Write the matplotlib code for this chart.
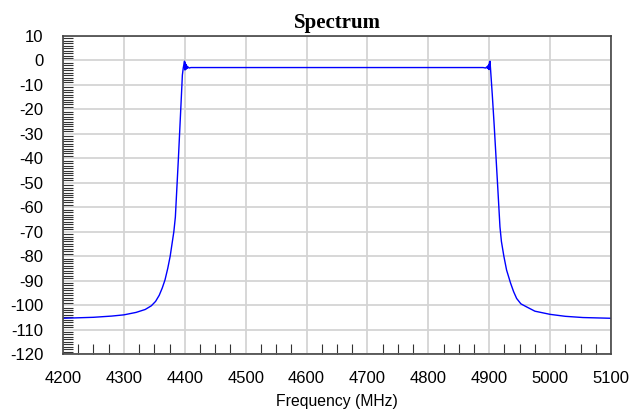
import matplotlib
matplotlib.use('Agg')
import matplotlib.pyplot as plt
from matplotlib.ticker import MultipleLocator

plt.rcParams['axes.unicode_minus'] = False

# frequency (MHz) and level (dB)
freq_mhz = [4200, 4250, 4280, 4300, 4320, 4335, 4345, 4352, 4358, 4363,
            4367.5, 4372, 4376, 4379, 4382, 4384.5, 4387, 4389.5, 4392, 4394.5,
            4396, 4397.5, 4398.7, 4399.5,
            4400.2, 4400.8, 4401.3, 4401.8, 4402.5, 4403.2, 4404, 4405, 4407, 4410,
            4500, 4600, 4700, 4800, 4890,
            4894, 4896, 4897, 4897.8, 4898.5, 4899.2, 4899.8, 4900.5,
            4901.2, 4902, 4905, 4908, 4911, 4914, 4917.6, 4920, 4924, 4928.5,
            4935, 4940, 4945, 4952, 4961, 4975, 5000, 5025, 5054, 5100]
level_db = [-105.4, -105.0, -104.5, -104.0, -103.0, -101.8, -100.3, -98.5, -96.0, -93.0,
            -89.7, -85.0, -80.0, -75.0, -70.0, -64.0, -52.0, -40.0, -27.0, -14.0,
            -6.0, -3.0, -1.5, -0.3,
            -3.9, -1.0, -3.7, -1.6, -3.4, -2.2, -3.2, -2.6, -3.1, -2.9,
            -2.9, -2.9, -2.9, -2.9, -2.9,
            -3.1, -2.6, -3.2, -2.2, -3.4, -1.6, -3.7, -0.8,
            -0.3, -3.0, -14.0, -26.0, -39.0, -52.0, -68.0, -74.0, -80.0, -85.7,
            -91.0, -94.5, -97.3, -99.5, -100.7, -102.5, -103.8, -104.6, -105.1, -105.4]

x_ticks = [4200, 4300, 4400, 4500, 4600, 4700, 4800, 4900, 5000, 5100]
y_ticks = [10, 0, -10, -20, -30, -40, -50, -60, -70, -80, -90, -100, -110, -120]

fig = plt.figure(figsize=(6.29, 4.09), dpi=100)
ax = fig.add_axes([0.1002, 0.1345, 0.8712, 0.7775])

ax.plot(freq_mhz, level_db, color='#0000ff', linewidth=1.0)

ax.set_xlim(4200, 5100)
ax.set_ylim(-120, 10)
ax.set_xticks(x_ticks)
ax.set_yticks(y_ticks)
ax.xaxis.set_minor_locator(MultipleLocator(25))
ax.yaxis.set_minor_locator(MultipleLocator(1))

ax.grid(True, which='major', color='#d4d4d4', linewidth=1.3)
ax.set_axisbelow(True)

ax.tick_params(which='major', length=0, labelsize=12)
ax.tick_params(axis='x', which='major', pad=12)
ax.tick_params(axis='y', which='major', pad=14)
ax.tick_params(which='minor', direction='in', length=7, width=0.8, color='#333333')
ax.tick_params(axis='x', which='minor', top=False)
ax.tick_params(axis='y', which='minor', right=False)

for s in ax.spines.values():
    s.set_color('#444444')
    s.set_linewidth(1.2)

for lab in ax.get_xticklabels() + ax.get_yticklabels():
    lab.set_fontfamily('Liberation Sans')

ax.set_title('Spectrum', fontfamily='Liberation Serif', fontweight='bold',
             fontsize=15, pad=6)
ax.set_xlabel('Frequency (MHz)', fontfamily='Liberation Sans', fontsize=11.3,
              labelpad=6)

fig.savefig('out.png', dpi=100)
